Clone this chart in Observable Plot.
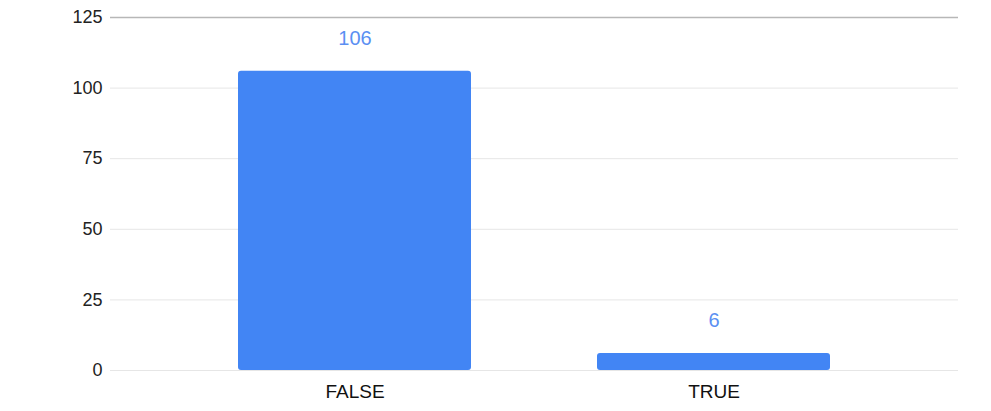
<!DOCTYPE html>
<html>
<head>
<meta charset="utf-8">
<script src="https://cdn.jsdelivr.net/npm/d3@7"></script>
<script src="https://cdn.jsdelivr.net/npm/@observablehq/plot@0.6"></script>
<style>
  html, body { margin: 0; padding: 0; background: #fff; }
  #chart svg { display: block; }
</style>
</head>
<body>
<div id="chart"></div>
<script>
const categories = ["FALSE", "TRUE"];
const counts = [106, 6];
const yTicks = [0, 25, 50, 75, 100, 125];

const data = categories.map((c, i) => ({category: c, count: counts[i]}));

const chart = Plot.plot({
  width: 991,
  height: 411,
  marginLeft: 110,
  marginRight: 33,
  marginTop: 17,
  marginBottom: 41,
  style: {fontFamily: "'Liberation Sans', Arial, sans-serif", background: "#fff"},
  x: {domain: categories, paddingInner: 0.35, paddingOuter: 0.353, label: null},
  y: {domain: [0, 125], label: null},
  marks: [
    Plot.ruleY(yTicks.filter(d => d !== 125), {stroke: "#e6e6e6", strokeWidth: 1}),
    Plot.ruleY([125], {stroke: "#b7b7b7", strokeWidth: 1.5}),
    Plot.barY(data, {x: "category", y: "count", fill: "#4285f4", rx: 3}),
    Plot.text(data, {
      x: "category", y: "count", text: d => String(d.count),
      dy: -33, fill: "#5b8ff2", stroke: "white", strokeWidth: 3,
      fontSize: 20
    }),
    Plot.axisY({ticks: yTicks, tickSize: 0, tickPadding: 8, fontSize: 18, color: "#222", label: null}),
    Plot.axisX({tickSize: 0, tickPadding: 14, fontSize: 19, color: "#111", label: null})
  ]
});
document.getElementById("chart").appendChild(chart);
</script>
</body>
</html>
